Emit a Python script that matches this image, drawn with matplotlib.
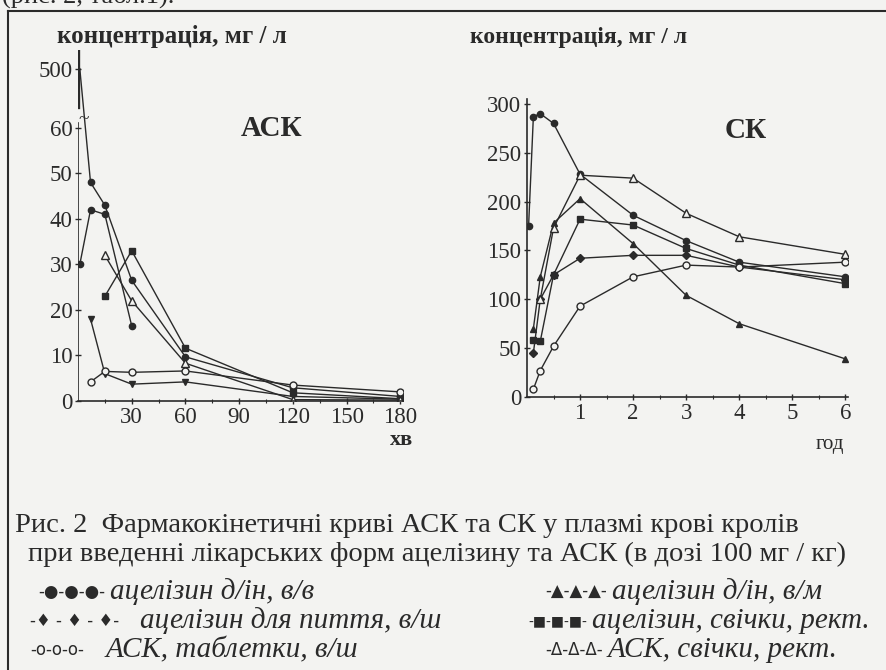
import numpy as np
import matplotlib
matplotlib.use("Agg")
import matplotlib.pyplot as plt

# ---------------- data ----------------
# Left panel: ASK (acetylsalicylic acid), time in minutes, mg/l
ask_iv_t = [1, 7, 15, 30, 60, 120, 180]
ask_iv_v = [500, 48, 43, 26.5, 9.7, 2.9, 1.0]
ask_im_t = [1, 7, 15, 30]
ask_im_v = [30, 42, 41, 16.5]
ask_drink_t = [7, 15, 30, 60, 120, 180]
ask_drink_v = [18, 6, 3.7, 4.2, 1.0, 0.4]
ask_supp_t = [15, 30, 60, 120, 180]
ask_supp_v = [23, 33, 11.6, 1.8, 0.5]
ask_tab_t = [7, 15, 30, 60, 120, 180]
ask_tab_v = [4.2, 6.5, 6.3, 6.6, 3.5, 2.0]
ask_asksupp_t = [15, 30, 60, 120, 180]
ask_asksupp_v = [32, 22, 8.3, 0.3, 0.2]

# Right panel: SK (salicylic acid), time in hours, mg/l
sk_iv_t = [0.03, 0.12, 0.25, 0.5, 1, 2, 3, 4, 6]
sk_iv_v = [175, 287, 290, 280, 228, 186, 160, 138, 123]
sk_im_t = [0.12, 0.25, 0.5, 1, 2, 3, 4, 6]
sk_im_v = [70, 123, 178, 203, 157, 104, 75, 39]
sk_drink_t = [0.12, 0.25, 0.5, 1, 2, 3, 4, 6]
sk_drink_v = [45, 100, 125, 142, 145, 145, 133, 120]
sk_supp_t = [0.12, 0.25, 0.5, 1, 2, 3, 4, 6]
sk_supp_v = [58, 57, 125, 182, 176, 152, 135, 116]
sk_tab_t = [0.12, 0.25, 0.5, 1, 2, 3, 4, 6]
sk_tab_v = [8, 27, 52, 93, 123, 135, 133, 138]
sk_asksupp_t = [0.25, 0.5, 1, 2, 3, 4, 6]
sk_asksupp_v = [100, 173, 227, 224, 188, 164, 146]

left_yticks = [0, 10, 20, 30, 40, 50, 60, 500]
left_xticks = [30, 60, 90, 120, 150, 180]
right_yticks = [0, 50, 100, 150, 200, 250, 300]
right_xticks = [1, 2, 3, 4, 5, 6]

ylabel_text = "концентрація, мг / л"
caption1 = "Рис. 2  Фармакокінетичні криві АСК та СК у плазмі крові кролів"
caption2 = "при введенні лікарських форм ацелізину та АСК (в дозі 100 мг / кг)"
legend_left = [("-●-●-●-", "ацелізин д/ін, в/в"),
               ("-♦ - ♦ - ♦-", "ацелізин для пиття, в/ш"),
               ("-о-о-о-", "АСК, таблетки, в/ш")]
legend_right = [("-▲-▲-▲-", "ацелізин д/ін, в/м"),
                ("-■-■-■-", "ацелізин, свічки, рект."),
                ("-Δ-Δ-Δ-", "АСК, свічки, рект.")]

# ---------------- style ----------------
INK = "#2a2a2a"
BG = "#f3f3f1"
SERIF = ["Liberation Serif", "DejaVu Serif"]
SYMF = ["DejaVu Sans"]
plt.rcParams["font.family"] = SERIF

W, H = 887, 670
fig = plt.figure(figsize=(W / 100, H / 100), dpi=100, facecolor=BG)


def fx(px):
    return px / W


def fy(py):
    return 1 - py / H


def add_ax(x0, y0, x1, y1):
    ax = fig.add_axes([fx(x0), fy(y1), fx(x1) - fx(x0), fy(y0) - fy(y1)])
    ax.set_facecolor("none")
    for s in ["top", "right"]:
        ax.spines[s].set_visible(False)
    for s in ["left", "bottom"]:
        ax.spines[s].set_color(INK)
        ax.spines[s].set_linewidth(1.2)
    ax.tick_params(colors=INK, labelsize=16.5, width=1, length=4, direction="inout", pad=2)
    ax.tick_params(which="minor", colors=INK, width=0.8, length=3, direction="inout")
    return ax


line_kw = dict(color=INK, lw=1.0)

# ---------------- left panel ----------------
def fwd(y):
    y = np.asarray(y, dtype=float)
    return np.where(y <= 60, y, 60 + (y - 60) * 13.0 / 440.0)


def inv(u):
    u = np.asarray(u, dtype=float)
    return np.where(u <= 60, u, 60 + (u - 60) * 440.0 / 13.0)


axL = add_ax(78, 50, 403, 401)
axL.set_yscale("function", functions=(fwd, inv))
axL.set_xlim(0, 181.5)
axL.set_ylim(0, float(inv(77.1)))
axL.set_yticks(left_yticks)
axL.set_yticklabels([str(v) for v in left_yticks])
axL.set_xticks(left_xticks)
axL.set_xticks([15, 45, 75, 105, 135, 165], minor=True)
axL.yaxis.set_minor_locator(matplotlib.ticker.NullLocator())

axL.plot(ask_iv_t, ask_iv_v, marker="o", ms=4.5, mfc=INK, mec=INK,
         markevery=list(range(1, len(ask_iv_t))), **line_kw)
axL.plot(ask_im_t, ask_im_v, marker="o", ms=4.5, mfc=INK, mec=INK, **line_kw)
axL.plot(ask_drink_t, ask_drink_v, marker="v", ms=4.5, mfc=INK, mec=INK, **line_kw)
axL.plot(ask_supp_t, ask_supp_v, marker="s", ms=4, mfc=INK, mec=INK, **line_kw)
axL.plot(ask_tab_t, ask_tab_v, marker="o", ms=5, mfc=BG, mec=INK, mew=1, **line_kw)
axL.plot(ask_asksupp_t, ask_asksupp_v, marker="^", ms=5.5, mfc=BG, mec=INK, mew=1, **line_kw)

# broken y axis
axL.spines["left"].set_visible(False)
axL.axvline(0, ymin=0, ymax=61 / 77.1, color=INK, lw=1.2)
axL.axvline(0, ymin=64.5 / 77.1, ymax=1, color=INK, lw=2.4)
fig.text(fx(84), fy(120), "~", fontsize=14, color=INK, ha="center", va="center")

fig.text(fx(57), fy(37), ylabel_text, fontsize=18, fontweight="bold", color=INK,
         ha="left", va="center")
fig.text(fx(272), fy(128), "АСК", fontsize=21, fontweight="bold", color=INK,
         ha="center", va="center")
fig.text(fx(402), fy(440), "хв", fontsize=16, fontweight="bold", color=INK,
         ha="center", va="center")

# ---------------- right panel ----------------
axR = add_ax(527, 99, 848, 397)
axR.set_xlim(0, 6.05)
axR.set_ylim(0, 305)
axR.set_yticks(right_yticks)
axR.set_xticks(right_xticks)
axR.set_xticks([0.5, 1.5, 2.5, 3.5, 4.5, 5.5], minor=True)

axR.plot(sk_iv_t, sk_iv_v, marker="o", ms=4.5, mfc=INK, mec=INK, **line_kw)
axR.plot(sk_im_t, sk_im_v, marker="^", ms=5, mfc=INK, mec=INK, **line_kw)
axR.plot(sk_drink_t, sk_drink_v, marker="D", ms=3.8, mfc=INK, mec=INK, **line_kw)
axR.plot(sk_supp_t, sk_supp_v, marker="s", ms=4, mfc=INK, mec=INK, **line_kw)
axR.plot(sk_tab_t, sk_tab_v, marker="o", ms=5, mfc=BG, mec=INK, mew=1, **line_kw)
axR.plot(sk_asksupp_t, sk_asksupp_v, marker="^", ms=5.5, mfc=BG, mec=INK, mew=1, **line_kw)

fig.text(fx(470), fy(38), ylabel_text, fontsize=17, fontweight="bold", color=INK,
         ha="left", va="center")
fig.text(fx(746), fy(130), "СК", fontsize=21, fontweight="bold", color=INK,
         ha="center", va="center")
fig.text(fx(830), fy(444), "год", fontsize=15, color=INK, ha="center", va="center")

# ---------------- frame and top clipped text ----------------
fig.add_artist(plt.Line2D([fx(8), fx(887)], [fy(11), fy(11)], color=INK, lw=1.5))
fig.add_artist(plt.Line2D([fx(8), fx(8)], [fy(11), fy(670)], color=INK, lw=1.5))
fig.text(fx(2), fy(-4), "(рис. 2, табл.1).", fontsize=19, color=INK, ha="left", va="center")

# ---------------- caption and legend ----------------
fig.text(fx(15), fy(525), caption1, fontsize=20.5, color=INK, ha="left", va="center")
fig.text(fx(28), fy(554), caption2, fontsize=20.5, color=INK, ha="left", va="center")

renderer = fig.canvas.get_renderer()
rows_y = [592, 621, 650]
left_sym_x = [38, 30, 30]
left_txt_x = [108, 140, 106]
right_sym_x = [545, 528, 545]
right_txt_x = [608, 572, 606]


def legend_col(entries, sxs, txs, sym_sizes):
    for (sym, lab), y, sx, tx, ss in zip(entries, rows_y, sxs, txs, sym_sizes):
        t = fig.text(fx(sx), fy(y), sym, fontsize=ss, color=INK, ha="left", va="center",
                     family=SYMF)
        bb = t.get_window_extent(renderer=renderer)
        start = max(tx, bb.x1 + 5)
        fig.text(fx(start), fy(y), lab, fontsize=21, style="italic", color=INK,
                 ha="left", va="center")


legend_col(legend_left, left_sym_x, left_txt_x, [12, 12, 12])
legend_col(legend_right, right_sym_x, right_txt_x, [12, 10, 12])

fig.savefig("out.png", dpi=100, facecolor=BG)
